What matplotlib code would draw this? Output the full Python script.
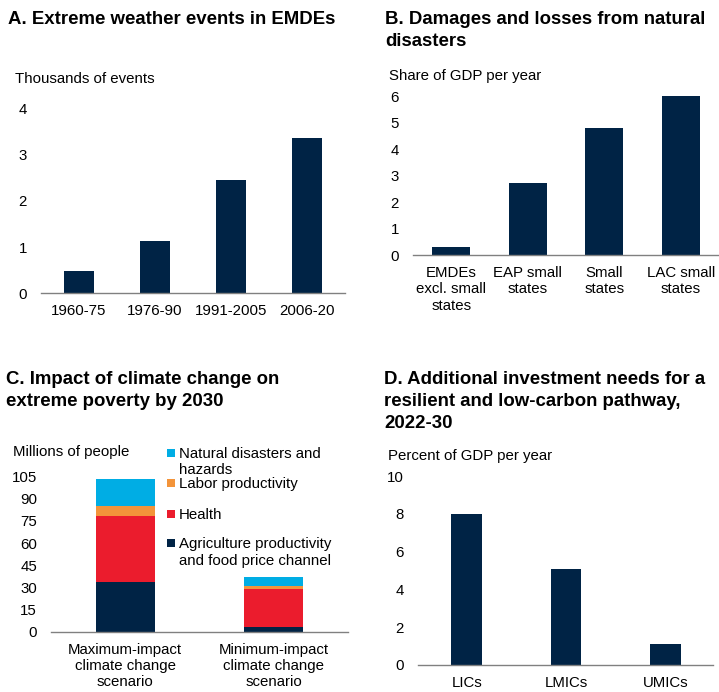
import matplotlib
matplotlib.use("Agg")
import matplotlib.pyplot as plt
from matplotlib.patches import Rectangle
import numpy as np

plt.rcParams["font.family"] = ["Liberation Sans", "DejaVu Sans"]

# Panel A
periods = ["1960-75", "1976-90", "1991-2005", "2006-20"]
weather_events = [0.49, 1.14, 2.46, 3.35]

# Panel B
b_groups = ["EMDEs\nexcl. small\nstates", "EAP small\nstates", "Small\nstates", "LAC small\nstates"]
damages = [0.30, 2.71, 4.81, 6.0]

# Panel C
scenarios = ["Maximum-impact\nclimate change\nscenario", "Minimum-impact\nclimate change\nscenario"]
channels = ["Agriculture productivity\nand food price channel", "Health",
            "Labor productivity", "Natural disasters and\nhazards"]
agri = [34.0, 3.4]
health = [44.6, 25.7]
labor = [6.6, 1.9]
natural = [18.5, 6.0]

# Panel D
income_groups = ["LICs", "LMICs", "UMICs"]
investment = [8.0, 5.1, 1.1]

NAVY = "#002345"
RED = "#EB1C2D"
ORANGE = "#F3943A"
CYAN = "#00ADE4"

FS = 10.8
TFS = 13.4

W, H = 719, 692
fig = plt.figure(figsize=(W / 100, H / 100), dpi=100)


def px_axes(left, right, bottom, top):
    return fig.add_axes([left / W, 1 - bottom / H, (right - left) / W, (bottom - top) / H])


def style(ax, yticks):
    for s in ["top", "right", "left"]:
        ax.spines[s].set_visible(False)
    ax.spines["bottom"].set_color("#808080")
    ax.spines["bottom"].set_linewidth(1.0)
    ax.set_yticks(yticks)
    ax.tick_params(axis="y", length=0, pad=10, labelsize=FS)
    ax.tick_params(axis="x", length=0, pad=8, labelsize=FS)
    for lab in ax.get_xticklabels():
        lab.set_linespacing(1.2)


def title(x, y_first, s):
    # y_first: centre of the first line, in pixels from the top
    fig.text(x / W, 1 - (y_first - 6.8) / H, s, fontsize=TFS, fontweight="bold",
             va="top", ha="left", linespacing=1.38)


def ylab(x, y, s):
    fig.text(x / W, 1 - y / H, s, fontsize=FS, va="center", ha="left")


# A
ax = px_axes(41, 345, 293.3, 108.3)
x = np.arange(len(periods))
ax.bar(x, weather_events, width=0.4, color=NAVY)
ax.set_xlim(-0.5, 3.5)
ax.set_ylim(0, 4)
ax.set_xticks(x, periods)
style(ax, [0, 1, 2, 3, 4])
title(8, 18, "A. Extreme weather events in EMDEs")
ylab(15, 79, "Thousands of events")

# B
ax = px_axes(413, 719, 255, 96.3)
x = np.arange(len(b_groups))
ax.bar(x, damages, width=0.5, color=NAVY)
ax.set_xlim(-0.5, 3.5)
ax.set_ylim(0, 6)
ax.set_xticks(x, b_groups)
style(ax, range(0, 7))
title(385, 18, "B. Damages and losses from natural\ndisasters")
ylab(389, 76, "Share of GDP per year")

# C
ax = px_axes(51, 348, 631.7, 476.7)
x = np.arange(len(scenarios))
bottom = np.zeros(len(scenarios))
colors = [NAVY, RED, ORANGE, CYAN]
for vals, c in zip([agri, health, labor, natural], colors):
    ax.bar(x, vals, bottom=bottom, width=0.4, color=c)
    bottom += np.array(vals)
ax.set_xlim(-0.5, 1.5)
ax.set_ylim(0, 105)
ax.set_xticks(x, scenarios)
style(ax, range(0, 106, 15))
title(6, 378, "C. Impact of climate change on\nextreme poverty by 2030")
ylab(13, 451.7, "Millions of people")

# legend (top entry first)
leg_y = [543.3, 514, 483.3, 452.7]
for lab, c, yy in zip(channels, colors, leg_y):
    fig.add_artist(Rectangle((167 / W, 1 - (yy + 4) / H), 8 / W, 8 / H,
                             transform=fig.transFigure, color=c, lw=0))
    fig.text(179 / W, 1 - (yy - 6) / H, lab, fontsize=FS, va="top",
             ha="left", linespacing=1.2)

# D
ax = px_axes(418, 713, 665, 476)
x = np.arange(len(income_groups))
ax.bar(x, investment, width=0.31, color=NAVY)
ax.set_xlim(-0.49, 2.48)
ax.set_ylim(0, 10)
ax.set_xticks(x, income_groups)
style(ax, range(0, 11, 2))
title(384, 378, "D. Additional investment needs for a\nresilient and low-carbon pathway,\n2022-30")
ylab(388, 455.7, "Percent of GDP per year")

fig.savefig("out.png", dpi=100)
